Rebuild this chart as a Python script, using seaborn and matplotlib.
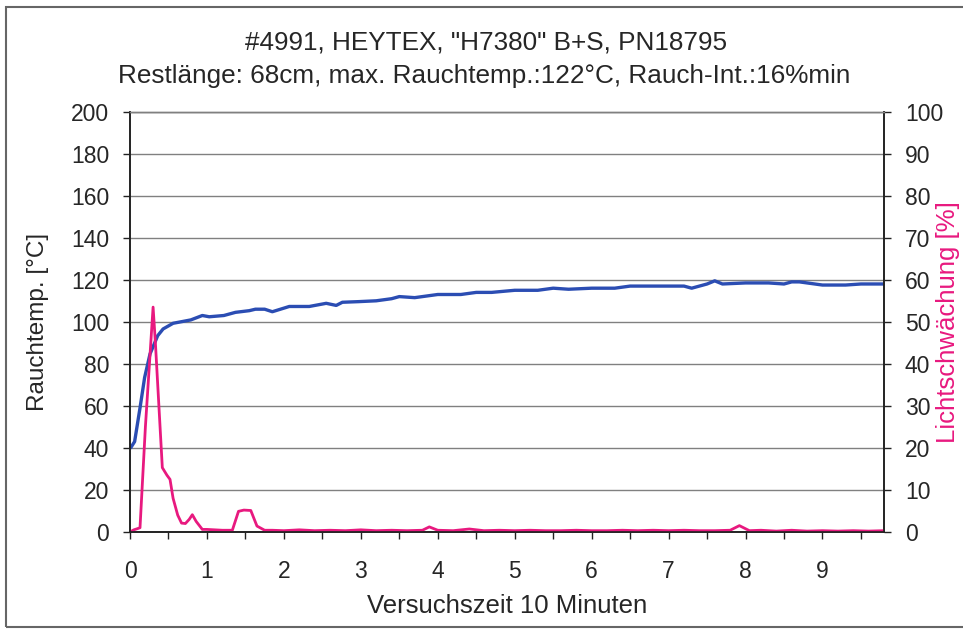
import numpy as np
import pandas as pd
import matplotlib
matplotlib.use("Agg")
import matplotlib.pyplot as plt
import seaborn as sns
from matplotlib.patches import Rectangle

# ---- data ----
temp_x = [0.0, 0.01, 0.06, 0.13, 0.19, 0.26, 0.36, 0.43, 0.56, 0.69, 0.79, 0.94, 1.03,
          1.22, 1.37, 1.55, 1.63, 1.75, 1.85, 2.07, 2.33, 2.55, 2.68, 2.76, 2.97,
          3.2, 3.4, 3.5, 3.7, 3.8, 4.0, 4.3, 4.5, 4.7, 5.0, 5.3, 5.5, 5.7, 6.0,
          6.3, 6.5, 6.8, 7.0, 7.2, 7.3, 7.5, 7.6, 7.7, 8.0, 8.3, 8.5, 8.6, 8.7,
          8.8, 8.9, 9.0, 9.3, 9.5, 9.8]
temp_val = [40.0, 40.1, 43.0, 59.0, 73.5, 84.7, 93.4, 96.6, 99.3, 100.2, 100.9, 103.0, 102.4,
            103.0, 104.5, 105.3, 106.0, 106.0, 104.8, 107.3, 107.3, 108.8, 107.8, 109.3, 109.6,
            110.0, 111.0, 112.0, 111.5, 112.0, 113.0, 113.0, 114.0, 114.0, 115.0, 115.0, 116.0, 115.5, 116.0,
            116.0, 117.0, 117.0, 117.0, 117.0, 116.0, 118.0, 119.5, 118.0, 118.5, 118.5, 118.0, 119.0, 119.0,
            118.5, 118.0, 117.5, 117.5, 118.0, 118.0]

smoke_x = [0.0, 0.05, 0.1, 0.13, 0.2, 0.3, 0.33, 0.42, 0.48, 0.52, 0.56, 0.62, 0.67, 0.72,
           0.77, 0.81, 0.86, 0.94, 1.0, 1.1, 1.2, 1.33, 1.41, 1.48, 1.57, 1.65, 1.75, 1.85,
           2.0, 2.2, 2.4, 2.6, 2.8, 3.0, 3.2, 3.4, 3.6, 3.8, 3.89, 4.0, 4.2, 4.41, 4.6,
           4.8, 5.0, 5.2, 5.4, 5.6, 5.8, 6.0, 6.2, 6.4, 6.6, 6.8, 7.0, 7.2, 7.4, 7.6,
           7.8, 7.92, 8.05, 8.2, 8.4, 8.6, 8.8, 9.0, 9.2, 9.4, 9.6, 9.8]
smoke_val = [0.0, 0.5, 0.8, 1.0, 25.0, 53.5, 45.0, 15.3, 13.5, 12.5, 8.0, 4.0, 2.1, 2.0,
             3.0, 4.1, 2.5, 0.6, 0.6, 0.5, 0.4, 0.4, 4.9, 5.2, 5.1, 1.4, 0.4, 0.4,
             0.3, 0.5, 0.3, 0.4, 0.3, 0.5, 0.3, 0.4, 0.3, 0.4, 1.2, 0.4, 0.3, 0.7, 0.3,
             0.4, 0.3, 0.4, 0.3, 0.3, 0.4, 0.3, 0.3, 0.4, 0.3, 0.4, 0.3, 0.4, 0.3, 0.3,
             0.4, 1.5, 0.3, 0.4, 0.2, 0.4, 0.2, 0.3, 0.2, 0.3, 0.2, 0.3]

x_ticks = [0, 0.5, 1, 1.5, 2, 2.5, 3, 3.5, 4, 4.5, 5, 5.5, 6, 6.5, 7, 7.5, 8, 8.5, 9, 9.5]
x_tick_labels = ["0", "", "1", "", "2", "", "3", "", "4", "", "5", "", "6", "", "7", "", "8", "", "9", ""]
left_ticks = [0, 20, 40, 60, 80, 100, 120, 140, 160, 180, 200]
right_ticks = [0, 10, 20, 30, 40, 50, 60, 70, 80, 90, 100]

title1 = '#4991, HEYTEX, "H7380" B+S, PN18795'
title2 = 'Restlänge: 68cm, max. Rauchtemp.:122°C, Rauch-Int.:16%min'

temp_df = pd.DataFrame({"t": temp_x, "v": temp_val})
smoke_df = pd.DataFrame({"t": smoke_x, "v": smoke_val})

sns.set_style("white")
plt.rcParams["font.family"] = ["Liberation Sans", "DejaVu Sans"]

BLUE = "#2b4db3"
PINK = "#e8197f"
GRID = "#808080"
DARK = "#222222"

fig = plt.figure(figsize=(9.63, 6.31), dpi=100)
ax = fig.add_axes([0.135, 0.157, 0.783, 0.666])
ax2 = ax.twinx()

ax.set_axisbelow(True)
ax.yaxis.grid(True, color=GRID, linewidth=1.0)
ax.xaxis.grid(False)

sns.lineplot(data=temp_df, x="t", y="v", ax=ax, color=BLUE, linewidth=2.4, estimator=None, sort=False)
sns.lineplot(data=smoke_df, x="t", y="v", ax=ax2, color=PINK, linewidth=2.0, estimator=None, sort=False)

ax.set_xlim(0, 9.8)
ax.set_ylim(0, 200)
ax2.set_ylim(0, 100)

ax.set_xticks(x_ticks)
ax.set_xticklabels(x_tick_labels)
ax.set_yticks(left_ticks)
ax2.set_yticks(right_ticks)

ax.tick_params(axis="x", direction="out", length=5, width=1, color=DARK,
               labelsize=16.5, pad=15, bottom=True)
ax.tick_params(axis="y", direction="out", length=5, width=1, color=DARK,
               labelsize=16.5, pad=10, left=True)
ax2.tick_params(axis="y", direction="out", length=5, width=1, color=DARK,
                labelsize=16.5, pad=10, right=True)

ax.set_xlabel("Versuchszeit 10 Minuten", fontsize=18.5)
ax.xaxis.set_label_coords(0.5, -0.148)
ax.set_ylabel("Rauchtemp. [°C]", fontsize=17.5)
ax.yaxis.set_label_coords(-0.108, 0.5)
ax2.set_ylabel("Lichtschwächung [%]", fontsize=18.5, color=PINK)
ax2.yaxis.set_label_coords(1.069, 0.5)

for a in (ax, ax2):
    for side in ("left", "right", "bottom"):
        a.spines[side].set_color(DARK)
        a.spines[side].set_linewidth(1.2)
    a.spines["top"].set_color(GRID)
    a.spines["top"].set_linewidth(1.0)

fig.text(0.505, 0.933, title1, ha="center", va="center", fontsize=18.8)
fig.text(0.503, 0.879, title2, ha="center", va="center", fontsize=18.8)

fig.patches.append(Rectangle((0.006, 0.006), 1.1, 0.983, transform=fig.transFigure,
                             fill=False, edgecolor="#666666", linewidth=1.5))

fig.savefig("out.png", dpi=100)
